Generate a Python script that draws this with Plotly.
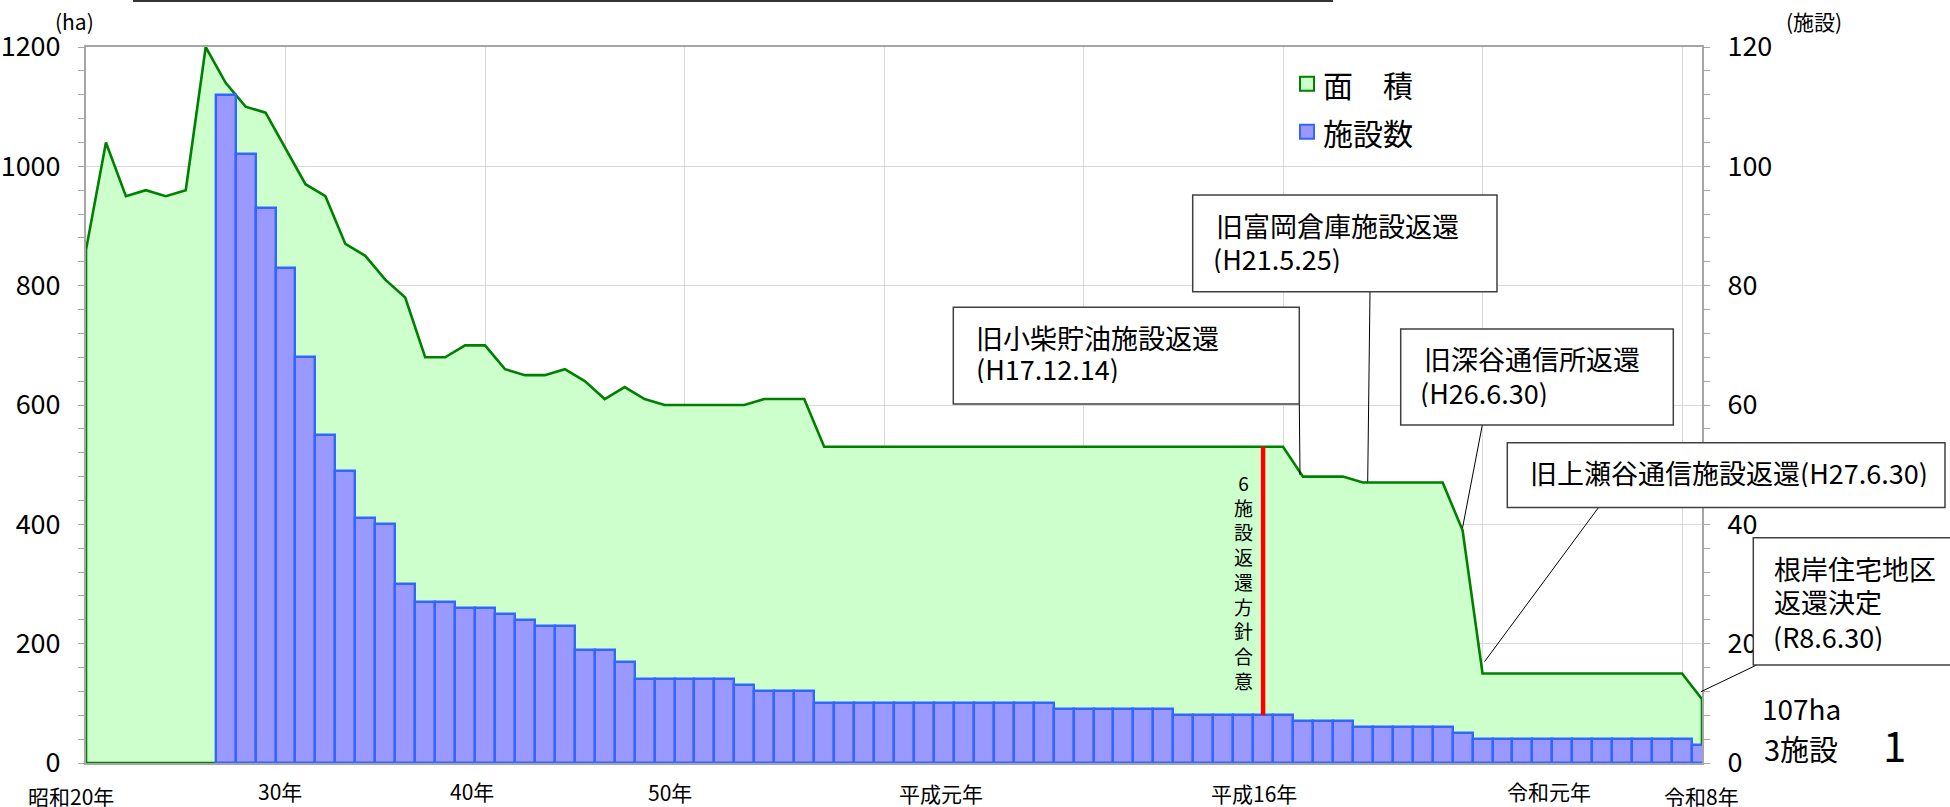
import plotly.graph_objects as go

# ---------------- data ----------------
years = [1945, 1946, 1947, 1948, 1949, 1950, 1951, 1952, 1953, 1954,
         1955, 1956, 1957, 1958, 1959, 1960, 1961, 1962, 1963, 1964,
         1965, 1966, 1967, 1968, 1969, 1970, 1971, 1972, 1973, 1974,
         1975, 1976, 1977, 1978, 1979, 1980, 1981, 1982, 1983, 1984,
         1985, 1986, 1987, 1988, 1989, 1990, 1991, 1992, 1993, 1994,
         1995, 1996, 1997, 1998, 1999, 2000, 2001, 2002, 2003, 2004,
         2005, 2006, 2007, 2008, 2009, 2010, 2011, 2012, 2013, 2014,
         2015, 2016, 2017, 2018, 2019, 2020, 2021, 2022, 2023, 2024,
         2025, 2026]

area_ha = [860, 1040, 950, 960, 950, 960, 1200, 1140, 1100, 1090,
           1030, 970, 950, 870, 850, 810, 780, 680, 680, 700,
           700, 660, 650, 650, 660, 640, 610, 630, 610, 600,
           600, 600, 600, 600, 610, 610, 610, 530, 530, 530,
           530, 530, 530, 530, 530, 530, 530, 530, 530, 530,
           530, 530, 530, 530, 530, 530, 530, 530, 530, 530,
           530, 480, 480, 480, 470, 470, 470, 470, 470, 390,
           150, 150, 150, 150, 150, 150, 150, 150, 150, 150,
           150, 107]

facilities = [None, None, None, None, None, None, None, 112, 102, 93,
              83, 68, 55, 49, 41, 40, 30, 27, 27, 26,
              26, 25, 24, 23, 23, 19, 19, 17, 14, 14,
              14, 14, 14, 13, 12, 12, 12, 10, 10, 10,
              10, 10, 10, 10, 10, 10, 10, 10, 10, 9,
              9, 9, 9, 9, 9, 8, 8, 8, 8, 8,
              8, 7, 7, 7, 6, 6, 6, 6, 6, 5,
              4, 4, 4, 4, 4, 4, 4, 4, 4, 4,
              4, 3]

x_labels = ["昭和20年", "30年", "40年", "50年", "平成元年", "平成16年", "令和元年", "令和8年"]
legend_names = ["面\u3000積", "施設数"]
agreement_year = 2004
agreement_text = "6施設返還方針合意"

callout_texts = [
    ["旧小柴貯油施設返還", "(H17.12.14)"],
    ["旧富岡倉庫施設返還", "(H21.5.25)"],
    ["旧深谷通信所返還", "(H26.6.30)"],
    ["旧上瀬谷通信施設返還(H27.6.30)"],
    ["根岸住宅地区", "返還決定", "(R8.6.30)"],
]

# ---------------- layout geometry ----------------
W, H = 1950, 807
L, R, T, B = 86, 248, 47, 44
PW, PH = W - L - R, H - T - B


def xp(px):
    return (px - L) / PW


def yp(py):
    return (H - B - py) / PH


GREEN_FILL = "#CCFFCC"
GREEN_LINE = "#008000"
BAR_FILL = "#9999FF"
BAR_LINE = "#3366FF"
GRID = "#D9D9D9"
AXIS = "#A6A6A6"
CJK = "Noto Sans CJK JP"
NUM = "Liberation Sans Narrow, Arial Narrow, Noto Sans CJK JP"

fig = go.Figure()

# area (closed polygon so the outline includes sides and bottom, like Excel)
fig.add_trace(go.Scatter(
    x=[years[0]] + years + [years[-1], years[0]],
    y=[0] + area_ha + [0, 0],
    mode="lines", fill="toself", fillcolor=GREEN_FILL,
    line=dict(color=GREEN_LINE, width=2.6),
    showlegend=False, hoverinfo="skip", yaxis="y"))

fig.add_trace(go.Bar(
    x=years, y=facilities, width=1.0,
    marker=dict(color=BAR_FILL, line=dict(color=BAR_LINE, width=2.4)),
    showlegend=False, yaxis="y2"))

fig.update_layout(
    width=W, height=H, autosize=False,
    margin=dict(l=L, r=R, t=T, b=B, pad=0, autoexpand=False),
    paper_bgcolor="white", plot_bgcolor="white",
    bargap=0,
    font=dict(family=CJK, color="black"),
    xaxis=dict(range=[years[0], years[-1]], tick0=1945, dtick=10,
               showgrid=True, gridcolor=GRID, gridwidth=1,
               showticklabels=False, ticks="", zeroline=False,
               showline=True, mirror=True, linecolor=AXIS, linewidth=2,
               layer="below traces", automargin=False),
    yaxis=dict(range=[0, 1200], tickvals=[0, 200, 400, 600, 800, 1000, 1200],
               showgrid=True, gridcolor=GRID, gridwidth=1, zeroline=False,
               showline=True, linecolor=AXIS, linewidth=2,
               ticks="outside", ticklen=6, tickcolor=AXIS, tickwidth=1,
               minor=dict(dtick=40, ticks="outside", ticklen=6, tickcolor=AXIS, showgrid=False),
               tickfont=dict(family=NUM, size=27, color="black"),
               ticklabelstandoff=12, automargin=False),
    yaxis2=dict(range=[0, 120], tickvals=[0, 20, 40, 60, 80, 100, 120],
                overlaying="y", side="right", showgrid=False, zeroline=False,
                showline=True, linecolor=AXIS, linewidth=2,
                ticks="outside", ticklen=6, tickcolor=AXIS, tickwidth=1,
                minor=dict(dtick=4, ticks="outside", ticklen=6, tickcolor=AXIS, showgrid=False),
                tickfont=dict(family=NUM, size=27, color="black"),
                ticklabelstandoff=12, automargin=False),
)

shapes = []
ann = []

# header rule at very top
shapes.append(dict(type="line", xref="paper", yref="paper",
                   x0=xp(133), x1=xp(1333), y0=yp(1), y1=yp(1),
                   line=dict(color="#333333", width=2)))

# axis unit labels
ann.append(dict(text="(ha)", x=xp(74), y=yp(21.5), xref="paper", yref="paper",
                showarrow=False, xanchor="center", yanchor="middle",
                font=dict(family=CJK, size=21)))
ann.append(dict(text="(施設)", x=xp(1814), y=yp(21.5), xref="paper", yref="paper",
                showarrow=False, xanchor="center", yanchor="middle",
                font=dict(family=CJK, size=21)))

# x labels (manually placed, as in the original)
xl_px = [70.8, 280, 471.7, 670.3, 940.6, 1254.3, 1548.8, 1701.5]
xl_py = [795.5, 791.5, 791.5, 792, 793, 793, 791.5, 796.0]
for t, px, py in zip(x_labels, xl_px, xl_py):
    ann.append(dict(text=t, x=xp(px), y=yp(py), xref="paper", yref="paper",
                    showarrow=False, xanchor="center", yanchor="middle",
                    borderpad=0,
                    font=dict(family=CJK, size=21)))

# legend (manual, Excel style)
shapes.append(dict(type="rect", xref="paper", yref="paper",
                   x0=xp(1284), x1=xp(1481), y0=yp(60), y1=yp(155),
                   fillcolor="white", line=dict(width=0)))
leg_y = [83.7, 131.7]
leg_fill = [GREEN_FILL, BAR_FILL]
leg_line = [GREEN_LINE, BAR_LINE]
for name, cy, fc, lc in zip(legend_names, leg_y, leg_fill, leg_line):
    shapes.append(dict(type="rect", xref="paper", yref="paper",
                       x0=xp(1300), x1=xp(1314), y0=yp(cy - 7), y1=yp(cy + 7),
                       fillcolor=fc, line=dict(color=lc, width=2)))
    ann.append(dict(text=name, x=xp(1321), y=yp(cy), xref="paper", yref="paper",
                    showarrow=False, xanchor="left", yanchor="middle",
                    font=dict(family=CJK, size=30)))

# red agreement line: from the facility bar top to the area line
ai = years.index(agreement_year)
shapes.append(dict(type="line", xref="x", yref="y",
                   x0=agreement_year, x1=agreement_year,
                   y0=facilities[ai] * 10, y1=area_ha[ai],
                   line=dict(color="#FF0000", width=4.5)))
ann.append(dict(text="<br>".join(list(agreement_text)), x=xp(1243.5), y=yp(581),
                xref="paper", yref="paper", showarrow=False,
                xanchor="center", yanchor="middle", align="center",
                font=dict(family=CJK, size=19)))

# callouts
boxes = [(953.3, 307.3, 1299.3, 404), (1192.7, 195, 1497, 291.7),
         (1400.7, 329, 1673.3, 425), (1507.3, 442.7, 1945, 507.5),
         (1753.3, 537.7, 1960, 665)]
text_pos = [[(975, 337), (975, 367.5)],
            [(1215, 224.5), (1212, 257.5)],
            [(1423.3, 357.5), (1419.3, 391.7)],
            [(1529.3, 472)],
            [(1772.7, 568.3), (1772.7, 601), (1771.7, 635.7)]]
leaders = [(1299.3, 404, 1300, 475), (1370, 291.7, 1367.7, 481.7),
           (1482.3, 425, 1462.5, 528), (1598.5, 507.5, 1484.5, 661.7),
           (1756.7, 665, 1701, 691.7)]
for (x0, y0, x1, y1), lines, pos, (la, lb, lc_, ld) in zip(boxes, callout_texts, text_pos, leaders):
    shapes.append(dict(type="line", xref="paper", yref="paper",
                       x0=xp(la), y0=yp(lb), x1=xp(lc_), y1=yp(ld),
                       line=dict(color="black", width=1)))
    shapes.append(dict(type="rect", xref="paper", yref="paper",
                       x0=xp(x0), x1=xp(x1), y0=yp(y0), y1=yp(y1),
                       fillcolor="white", line=dict(color="#404040", width=1.5)))
    for t, (px, py) in zip(lines, pos):
        ann.append(dict(text=t, x=xp(px), y=yp(py), xref="paper", yref="paper",
                        showarrow=False, xanchor="left", yanchor="middle",
                        height=30, borderpad=0,
                        font=dict(family=CJK, size=27)))

# final-year summary
ann.append(dict(text=f"{area_ha[-1]}ha", x=xp(1761), y=yp(707.5), xref="paper", yref="paper",
                showarrow=False, xanchor="left", yanchor="middle",
                height=34, borderpad=0,
                font=dict(family=NUM, size=28)))
ann.append(dict(text=f"{facilities[-1]}施設", x=xp(1763), y=yp(748), xref="paper", yref="paper",
                showarrow=False, xanchor="left", yanchor="middle",
                height=34, borderpad=0,
                font=dict(family=CJK, size=29)))
ann.append(dict(text="1", x=xp(1894), y=yp(743.3), xref="paper", yref="paper",
                showarrow=False, xanchor="center", yanchor="middle",
                font=dict(family=CJK, size=42)))

fig.update_layout(shapes=shapes, annotations=ann)
fig.write_html("out.html", config={"displayModeBar": False},
               post_script="document.body.style.margin='0';document.body.style.overflow='hidden';")
